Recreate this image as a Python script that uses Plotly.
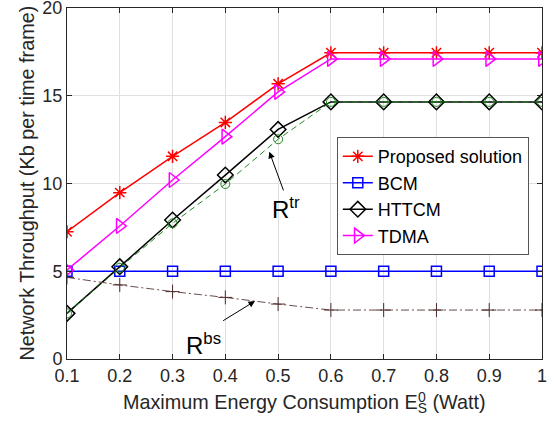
import plotly.graph_objects as go

energy = [0.1, 0.2, 0.3, 0.4, 0.5, 0.6, 0.7, 0.8, 0.9, 1.0]
x_tick_labels = ["0.1", "0.2", "0.3", "0.4", "0.5", "0.6", "0.7", "0.8", "0.9", "1"]
y_ticks = [0, 5, 10, 15, 20]

proposed = [7.25, 9.48, 11.55, 13.48, 15.68, 17.45, 17.45, 17.45, 17.45, 17.45]
bcm = [5.0, 5.0, 5.0, 5.0, 5.0, 5.0, 5.0, 5.0, 5.0, 5.0]
httcm = [2.6, 5.26, 7.92, 10.48, 13.08, 14.65, 14.65, 14.65, 14.65, 14.65]
tdma = [5.07, 7.58, 10.2, 12.67, 15.22, 17.1, 17.1, 17.1, 17.1, 17.1]
r_tr = [2.6, 5.2, 7.73, 9.97, 12.52, 14.65, 14.65, 14.65, 14.65, 14.65]
r_bs = [4.65, 4.22, 3.84, 3.51, 3.13, 2.79, 2.79, 2.79, 2.79, 2.79]

FONT = "Liberation Sans, Arial, Helvetica, sans-serif"
AX = "#262626"

fig = go.Figure()
fig.add_trace(go.Scatter(x=energy, y=proposed, name="Proposed solution", mode="lines+markers",
                         line=dict(color="#ff0000", width=1.5),
                         marker=dict(symbol="asterisk-open", size=11, color="#ff0000",
                                     line=dict(width=1.5, color="#ff0000"))))
fig.add_trace(go.Scatter(x=energy, y=bcm, name="BCM", mode="lines+markers",
                         line=dict(color="#0000ff", width=1.5),
                         marker=dict(symbol="square-open", size=10, color="#0000ff",
                                     line=dict(width=1.5, color="#0000ff"))))
fig.add_trace(go.Scatter(x=energy, y=httcm, name="HTTCM", mode="lines+markers",
                         line=dict(color="#000000", width=1.5),
                         marker=dict(symbol="diamond-open", size=12, color="#000000",
                                     line=dict(width=1.5, color="#000000"))))
fig.add_trace(go.Scatter(x=energy, y=tdma, name="TDMA", mode="lines+markers",
                         line=dict(color="#ff00ff", width=1.5),
                         marker=dict(symbol="triangle-right-open", size=13, color="#ff00ff",
                                     line=dict(width=1.5, color="#ff00ff"))))
fig.add_trace(go.Scatter(x=energy, y=r_tr, name="R_tr", mode="lines+markers", showlegend=False,
                         line=dict(color="#1f8a1f", width=1, dash="6px,4px"),
                         marker=dict(symbol="circle-open", size=9, color="#1f8a1f",
                                     line=dict(width=1, color="#1f8a1f"))))
fig.add_trace(go.Scatter(x=energy, y=r_bs, name="R_bs", mode="lines+markers", showlegend=False,
                         line=dict(color="#6e4a4a", width=1, dash="8px,3px,2px,3px"),
                         marker=dict(symbol="cross-thin-open", size=10, color="#4a2a2a",
                                     line=dict(width=1, color="#4a2a2a"))))

# arrows
fig.add_annotation(x=0.4833, y=11.81, ax=0.5112, ay=9.52, xref="x", yref="y", axref="x", ayref="y",
                   text="", showarrow=True, arrowhead=2, arrowsize=1.3, arrowwidth=1, arrowcolor="#000000",
                   standoff=0, startstandoff=0)
fig.add_annotation(x=0.4562, y=3.30, ax=0.393, ay=2.13, xref="x", yref="y", axref="x", ayref="y",
                   text="", showarrow=True, arrowhead=2, arrowsize=1.3, arrowwidth=1, arrowcolor="#000000",
                   standoff=0, startstandoff=0)
fig.add_annotation(x=0.515, y=8.6, xref="x", yref="y", text="R<sup>tr</sup>", showarrow=False,
                   font=dict(family=FONT, size=24, color="#000000"))
fig.add_annotation(x=0.358, y=0.85, xref="x", yref="y", text="R<sup>bs</sup>", showarrow=False,
                   font=dict(family=FONT, size=24, color="#000000"))

# axis titles (annotations for exact placement; plot area is x 67..542, y 8..359 px)
PW, PH = 475.0, 351.0
fig.add_annotation(x=(26 - 67) / PW, y=0.5, xref="paper", yref="paper", textangle=-90,
                   text="Network Throughput (Kb per time frame)", showarrow=False,
                   xanchor="center", yanchor="middle",
                   font=dict(family=FONT, size=19.8, color=AX))
fig.add_annotation(x=0.5, y=(359 - 403) / PH, xref="paper", yref="paper",
                   text="Maximum Energy Consumption E<sub>S</sub> (Watt)", showarrow=False,
                   xanchor="center", yanchor="middle",
                   font=dict(family=FONT, size=19.8, color=AX))
fig.add_annotation(x=(422 - 67) / PW, y=(359 - 397) / PH, xref="paper", yref="paper",
                   text="0", showarrow=False, xanchor="center", yanchor="middle",
                   font=dict(family=FONT, size=14, color=AX))

fig.update_layout(
    width=556, height=433,
    margin=dict(l=67, r=14, t=8, b=74, autoexpand=False),
    paper_bgcolor="white", plot_bgcolor="white",
    font=dict(family=FONT, size=18, color=AX),
    showlegend=True,
    legend=dict(x=0.568, y=0.632, xanchor="left", yanchor="top",
                bgcolor="white", bordercolor="#555555", borderwidth=1,
                font=dict(family=FONT, size=18, color="#000000"),
                itemwidth=30, tracegroupgap=0),
    xaxis=dict(range=[0.1, 1.0], tickvals=energy, ticktext=x_tick_labels,
               showgrid=True, gridcolor="#e0e0e0", gridwidth=1, zeroline=False,
               showline=True, linecolor=AX, linewidth=1, mirror="ticks",
               ticks="inside", ticklen=5, tickcolor=AX, automargin=False,
               ticklabeloverflow="allow",
               tickfont=dict(family=FONT, size=18, color=AX)),
    yaxis=dict(range=[0, 20], tickvals=y_ticks,
               showgrid=True, gridcolor="#e0e0e0", gridwidth=1, zeroline=False,
               showline=True, linecolor=AX, linewidth=1, mirror="ticks",
               ticks="inside", ticklen=5, tickcolor=AX, automargin=False,
               ticklabeloverflow="allow",
               tickfont=dict(family=FONT, size=18, color=AX)),
)

fig.write_html("out.html", config={"displayModeBar": False},
               post_script="document.body.style.margin='0';document.body.style.overflow='hidden';")
